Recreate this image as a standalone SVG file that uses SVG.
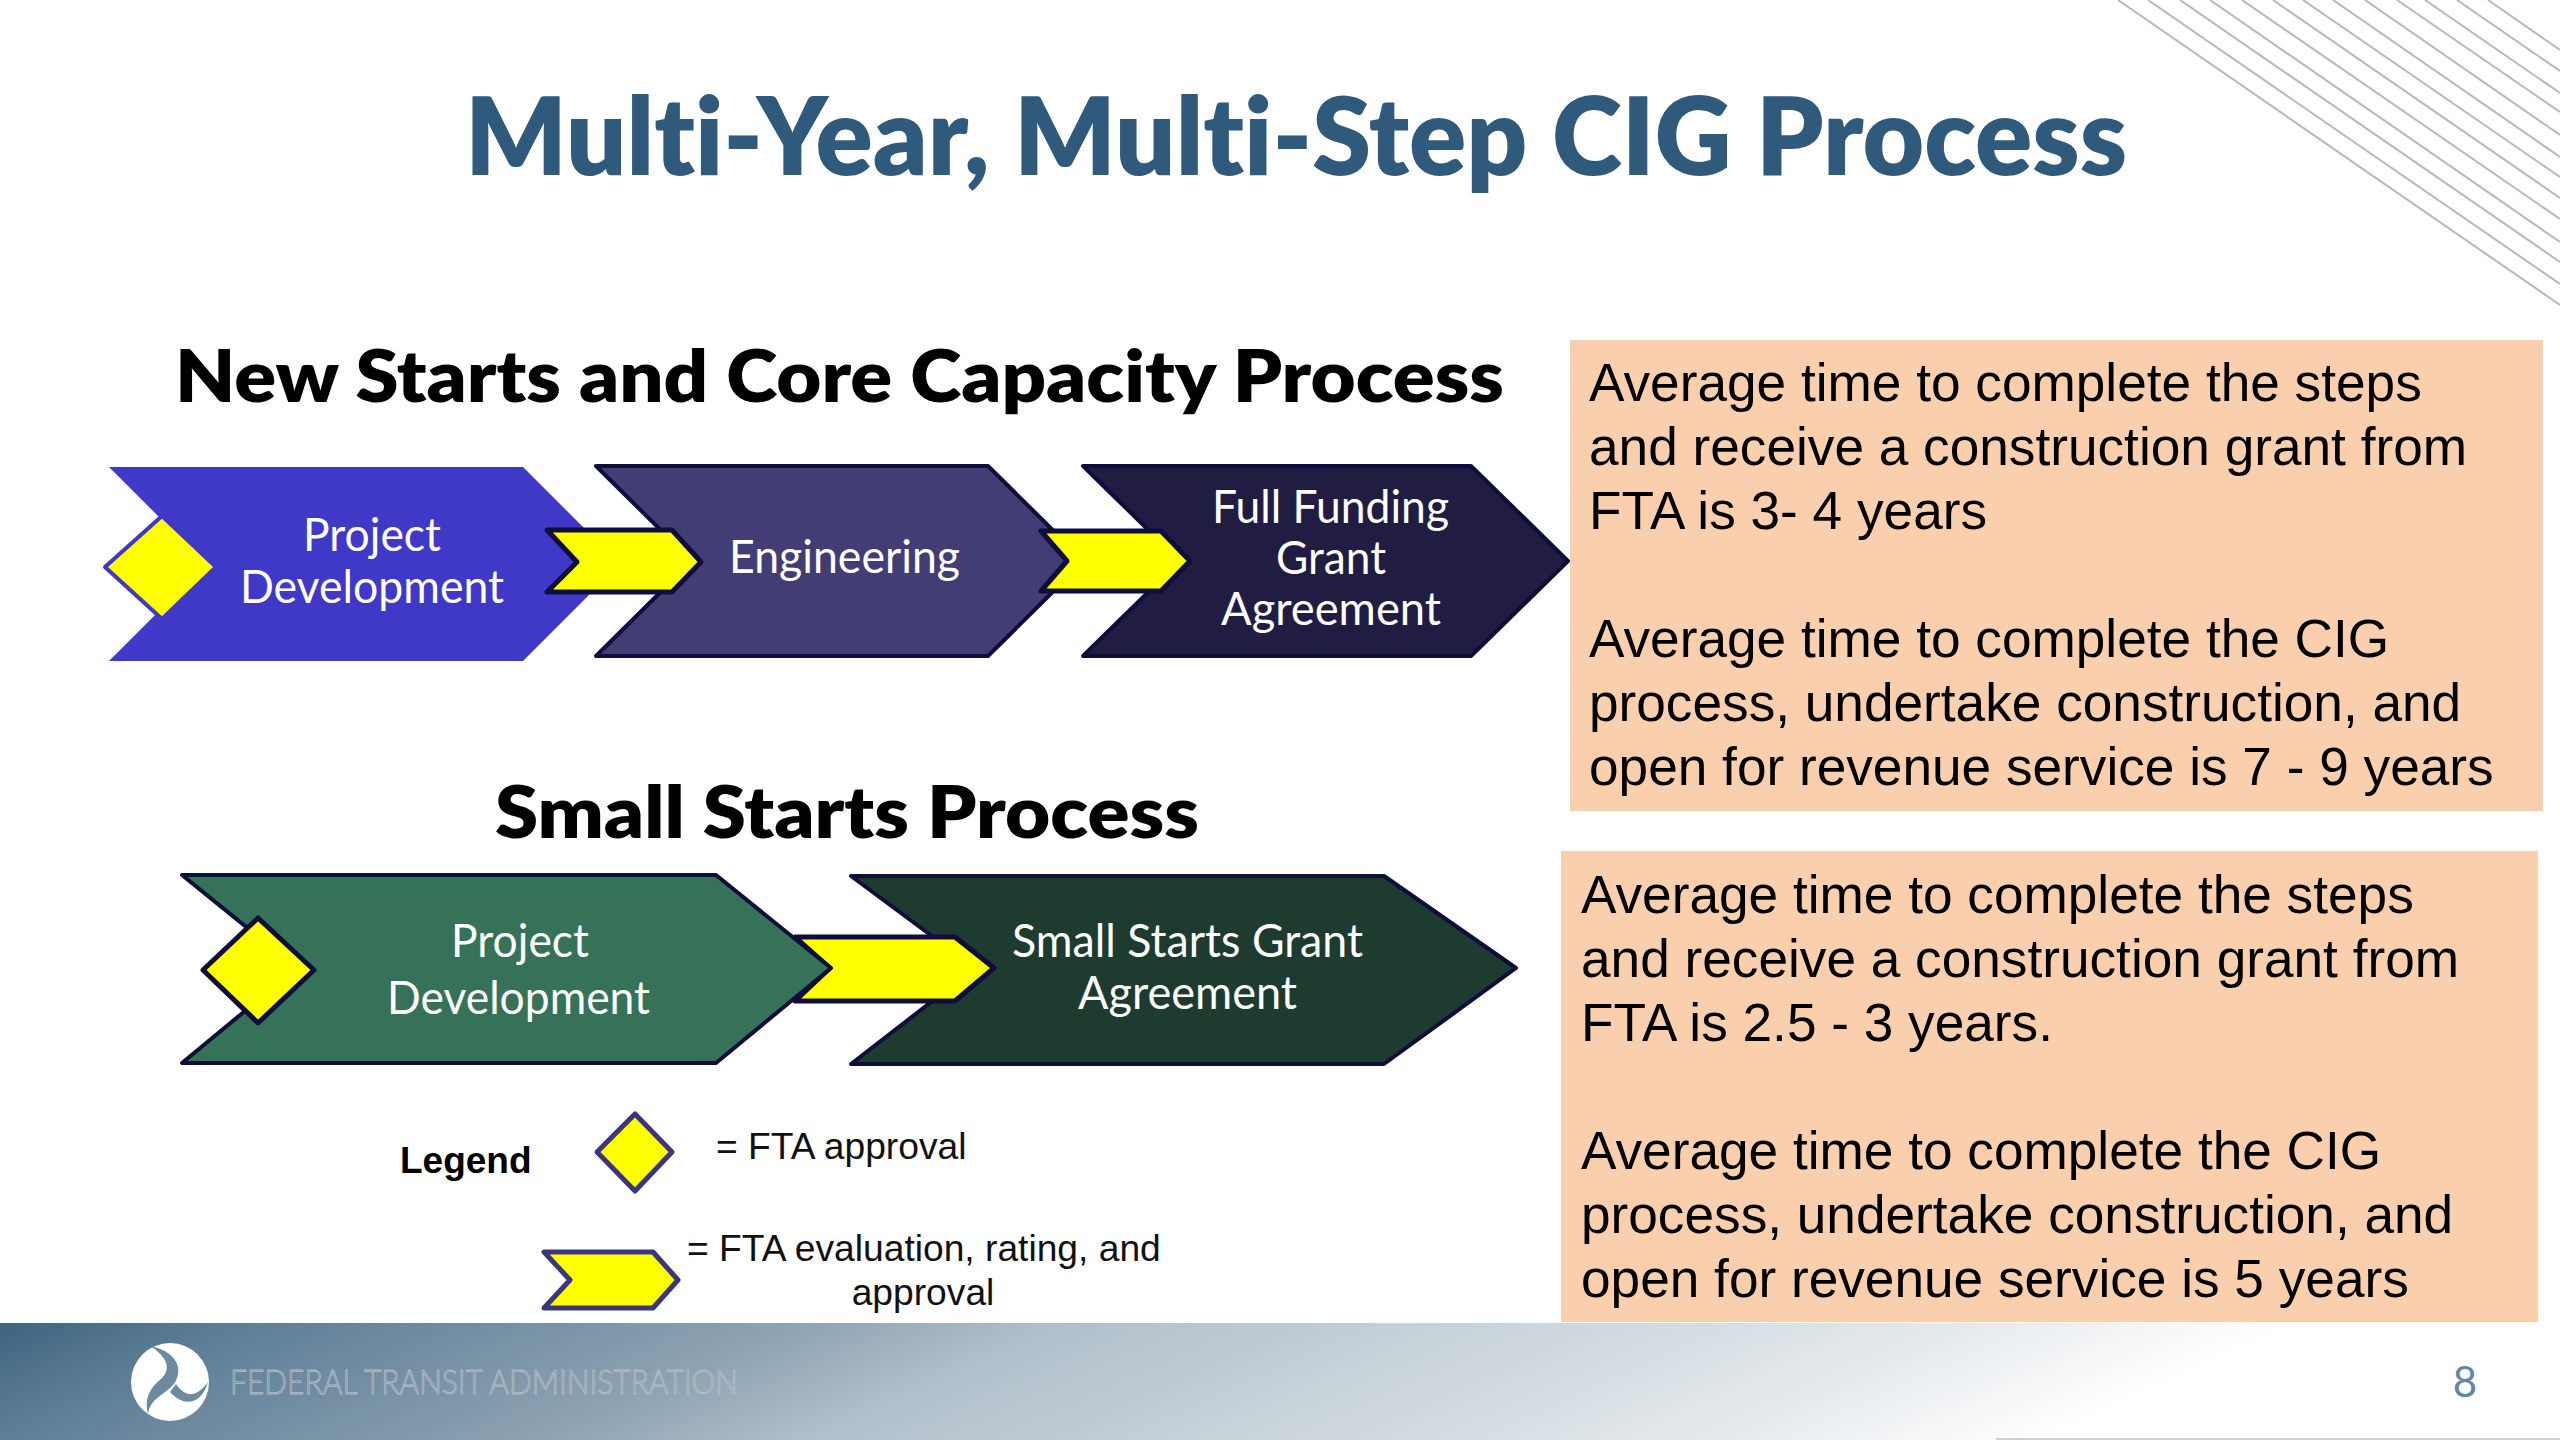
<svg xmlns="http://www.w3.org/2000/svg" width="2560" height="1440" viewBox="0 0 2560 1440">
<defs>
<linearGradient id="foot" gradientUnits="userSpaceOnUse" x1="0" y1="1323" x2="394" y2="2190"><stop offset="0" stop-color="#3f6480"/><stop offset="0.112" stop-color="#5f7f97"/><stop offset="0.348" stop-color="#8ea3b3"/><stop offset="0.46" stop-color="#b0bfca"/><stop offset="0.852" stop-color="#e4e9ec"/><stop offset="1" stop-color="#ffffff"/></linearGradient>
</defs>
<style>
.c{font-family:Lato,"Open Sans",sans-serif;font-variant-ligatures:none}
.a{font-family:"Liberation Sans",Arial,sans-serif}
.n{font-size:46px;fill:#fff;text-anchor:start}
.h{font-size:72px;font-weight:800;fill:#000}
.b{font-size:53.2px;fill:#000}
.l{font-size:37.2px;fill:#111}
.y{fill:#ff0;stroke:#0f0d3a;stroke-width:5;stroke-linejoin:round}
.s{stroke:#0f0d3a;stroke-width:4;stroke-linejoin:round}
.st{stroke:#b8b8b8;stroke-width:2;fill:none}
</style>
<rect width="2560" height="1440" fill="#fff"/>
<g id="stripes" class="st">
<path d="M2118 0L2560 305M2148 0L2560 284M2180 0L2560 262M2210 0L2560 242M2242 0L2560 219M2273 0L2560 198M2303 0L2560 177M2333 0L2560 157M2365 0L2560 135M2397 0L2560 112M2425 0L2560 93M2457 0L2560 71M2488 0L2560 50"/>
</g>
<text id="title" class="c" x="465" y="175" font-size="108" font-weight="800" fill="#2f5a7c" textLength="1662" lengthAdjust="spacingAndGlyphs">Multi-Year, Multi-Step CIG Process</text>
<text id="heading-1" class="c h" x="175" y="402" textLength="1329" lengthAdjust="spacingAndGlyphs">New Starts and Core Capacity Process</text>
<text id="heading-2" class="c h" x="495" y="838" textLength="704" lengthAdjust="spacingAndGlyphs">Small Starts Process</text>

<g id="ns-full-funding">
<polygon class="s" points="1083,466 1471,466 1568,561 1471,656 1083,656 1180,561" fill="#211d42"/>
<text class="c n" x="1212" y="523" textLength="237" lengthAdjust="spacingAndGlyphs">Full Funding</text>
<text class="c n" x="1276" y="574" textLength="110" lengthAdjust="spacingAndGlyphs">Grant</text>
<text class="c n" x="1221" y="625" textLength="220" lengthAdjust="spacingAndGlyphs">Agreement</text>
</g>
<g id="ns-engineering">
<polygon class="s" points="596,466 988,466 1084,561 988,656 596,656 692,561" fill="#433d76"/>
<text class="c n" x="729" y="573" textLength="231" lengthAdjust="spacingAndGlyphs">Engineering</text>
</g>
<g id="ns-project-development">
<polygon points="109,467 523,467 620,564 523,661 109,661 206,564" fill="#4038c6"/>
<text class="c n" x="303" y="551" textLength="138" lengthAdjust="spacingAndGlyphs">Project</text>
<text class="c n" x="240" y="603" textLength="264" lengthAdjust="spacingAndGlyphs">Development</text>
</g>
<g id="ns-approval">
<polygon points="162,516 216,567 162,619 105,567" fill="#ff0" stroke="#4038c6" stroke-width="4" stroke-linejoin="round"/>
</g>
<g id="connectors">
<polygon class="y" points="547,530 672,530 701,562 672,592 547,592 577,562"/>
<polygon class="y" points="1041,531 1161,531 1190,561 1161,591 1041,591 1067,561"/>
</g>

<g id="ss-grant">
<polygon class="s" points="851,876 1384,876 1516,968 1384,1064 851,1064 975,968" fill="#1d3b2e"/>
<text class="c n" x="1012" y="957" textLength="351" lengthAdjust="spacingAndGlyphs">Small Starts Grant</text>
<text class="c n" x="1078" y="1009" textLength="219" lengthAdjust="spacingAndGlyphs">Agreement</text>
</g>
<g id="ss-connector">
<polygon class="y" points="795,937 955,937 994,968 955,1001 795,1001 830,968"/>
</g>
<g id="ss-project-development">
<polygon class="s" points="182,875 716,875 831,968 716,1063 182,1063 297,968" fill="#357257"/>
<polygon class="y" points="258,918 314,970 258,1023 203,970"/>
<text class="c n" x="451" y="957" textLength="138" lengthAdjust="spacingAndGlyphs">Project</text>
<text class="c n" x="387" y="1014" textLength="263" lengthAdjust="spacingAndGlyphs">Development</text>
</g>

<g id="box-1">
<rect x="1570" y="340" width="973" height="471" fill="#f9cfae"/>
<text class="a b" x="1589" y="401">Average time to complete the steps</text>
<text class="a b" x="1589" y="465">and receive a construction grant from</text>
<text class="a b" x="1589" y="529">FTA is 3- 4 years</text>
<text class="a b" x="1589" y="657">Average time to complete the CIG</text>
<text class="a b" x="1589" y="721">process, undertake construction, and</text>
<text class="a b" x="1589" y="785">open for revenue service is 7 - 9 years</text>
</g>
<g id="box-2">
<rect x="1561" y="851" width="977" height="471" fill="#f9cfae"/>
<text class="a b" x="1581" y="913">Average time to complete the steps</text>
<text class="a b" x="1581" y="977">and receive a construction grant from</text>
<text class="a b" x="1581" y="1041">FTA is 2.5 - 3 years.</text>
<text class="a b" x="1581" y="1169">Average time to complete the CIG</text>
<text class="a b" x="1581" y="1233">process, undertake construction, and</text>
<text class="a b" x="1581" y="1297">open for revenue service is 5 years</text>
</g>

<g id="legend">
<text class="a" x="400" y="1173" font-size="37" font-weight="700" fill="#000">Legend</text>
<polygon points="635,1114 672,1152 635,1191 597,1152" fill="#ff0" stroke="#3b3580" stroke-width="5" stroke-linejoin="round"/>
<text class="a l" x="716" y="1159">= FTA approval</text>
<polygon points="544,1252 653,1252 678,1280 653,1308 544,1308 570,1280" fill="#ff0" stroke="#3b3580" stroke-width="5" stroke-linejoin="round"/>
<text class="a l" x="687" y="1261">= FTA evaluation, rating, and</text>
<text class="a l" x="923" y="1305" text-anchor="middle">approval</text>
</g>

<g id="footer">
<rect x="0" y="1323" width="2560" height="117" fill="url(#foot)"/>
<rect x="1996" y="1438" width="564" height="2" fill="#d0d0d0"/>
<ellipse cx="170" cy="1382" rx="39" ry="39" fill="#fff"/>
<path d="M150 1346C172 1350 186 1366 174 1384C166 1394 150 1398 148 1414C144 1398 150 1388 162 1378C172 1368 166 1356 150 1346Z" fill="#6c8aa0"/>
<path d="M176 1384C186 1398 196 1398 208 1382C202 1404 184 1408 170 1392Z" fill="#6c8aa0"/>
<text class="c" x="230" y="1394" font-size="33" font-weight="300" fill="none" stroke="#b4bfc8" stroke-width="0.8" textLength="508" lengthAdjust="spacingAndGlyphs">FEDERAL TRANSIT ADMINISTRATION</text>
<text class="c" x="2465" y="1397" font-size="42" fill="#5f86a6" text-anchor="middle">8</text>
</g>
</svg>
